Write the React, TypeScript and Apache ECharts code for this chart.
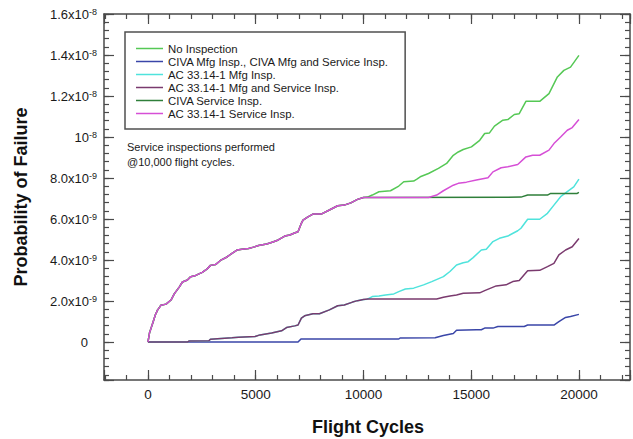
import React, { useEffect, useRef } from "react";
import * as echarts from "echarts";

// Axis extents (x in flight cycles, y in units of 1e-9)
const X_MIN = -2040;
const X_MAX = 22370;
const Y_MIN = -1.85;
const Y_MAX = 16;

const seriesNames = [
  "No Inspection",
  "CIVA Mfg Insp., CIVA Mfg and Service Insp.",
  "AC 33.14-1 Mfg Insp.",
  "AC 33.14-1 Mfg and Service Insp.",
  "CIVA Service Insp.",
  "AC 33.14-1 Service Insp.",
];

const seriesColors = ["#55c855", "#3a46a8", "#4fe3dc", "#7a3a6e", "#2f7f3a", "#d64fd6"];

// Common path of the three cases without manufacturing inspection, up to the
// service inspection at 10,000 cycles  [cycles, probability x 1e-9]
const noMfgToService: [number, number][] = [
  [0, 0], [70, 0.44], [145, 0.68], [220, 0.92], [345, 1.33], [450, 1.57], [560, 1.73],
  [600, 1.8], [840, 1.85], [1070, 2.05], [1220, 2.35], [1450, 2.68], [1600, 2.93],
  [1830, 3.03], [1985, 3.19], [2215, 3.25], [2520, 3.4], [2750, 3.57], [2900, 3.74],
  [3135, 3.78], [3365, 3.98], [3670, 4.15], [3900, 4.33], [4130, 4.49], [4360, 4.53],
  [4670, 4.56], [4900, 4.63], [5130, 4.71], [5510, 4.78], [5800, 4.88], [6045, 4.98],
  [6350, 5.17], [6585, 5.22], [6800, 5.32], [6965, 5.38], [7100, 5.75], [7195, 5.95],
  [7425, 6.11], [7655, 6.24], [8040, 6.24], [8420, 6.44], [8805, 6.65], [9110, 6.68],
  [9415, 6.79], [9725, 6.96], [10000, 7.05],
];

const noInspectionAfter: [number, number][] = [
  [10185, 7.07], [10410, 7.17], [10720, 7.33], [11255, 7.38], [11640, 7.61], [11870, 7.82],
  [12330, 7.85], [12480, 7.95], [12635, 8.06], [13020, 8.22], [13480, 8.47], [13860, 8.71],
  [14170, 9.11], [14400, 9.27], [14630, 9.39], [15010, 9.52], [15395, 9.84], [15625, 10.17],
  [15850, 10.2], [16080, 10.53], [16470, 10.82], [16700, 10.85], [17000, 11.1], [17230, 11.14],
  [17540, 11.74], [18180, 11.74], [18610, 12.12], [19000, 12.93], [19300, 13.25],
  [19610, 13.41], [20000, 13.98],
];

const acServiceAfter: [number, number][] = [
  [13020, 7.05], [13400, 7.17], [13710, 7.38], [14170, 7.65], [14400, 7.74], [14780, 7.8],
  [15240, 7.9], [15780, 8.01], [16010, 8.3], [16390, 8.5], [16700, 8.55], [17160, 8.66],
  [17540, 9.03], [17850, 9.11], [18180, 9.11], [18610, 9.36], [18840, 9.68], [19150, 10.0],
  [19460, 10.33], [19690, 10.46], [20000, 10.85],
];

const civaServiceAfter: [number, number][] = [
  [17310, 7.07], [17620, 7.17], [18540, 7.17], [18690, 7.25], [19920, 7.25], [20000, 7.3],
];

// Common path of the two AC 33.14-1 manufacturing-inspection cases
const acMfgToService: [number, number][] = [
  [0, 0], [1830, 0], [1900, 0.05], [2830, 0.06], [2900, 0.14], [3900, 0.21], [4200, 0.24],
  [4970, 0.27], [5200, 0.35], [5740, 0.44], [6200, 0.55], [6430, 0.71], [6810, 0.79],
  [6965, 0.83], [7120, 1.17], [7270, 1.28], [7655, 1.38], [7960, 1.38], [8420, 1.57],
  [8805, 1.77], [9110, 1.81], [9495, 1.95], [9725, 2.02], [10000, 2.08],
];

const acMfgAfter: [number, number][] = [
  [10185, 2.09], [10410, 2.22], [10720, 2.25], [11025, 2.3], [11410, 2.35], [11640, 2.46],
  [11945, 2.59], [12330, 2.63], [12790, 2.79], [13170, 2.95], [13710, 3.19], [14015, 3.44],
  [14320, 3.76], [14630, 3.87], [14860, 3.92], [15090, 4.12], [15470, 4.49], [15700, 4.53],
  [16010, 4.9], [16310, 5.06], [16700, 5.17], [17160, 5.43], [17310, 5.55], [17620, 5.99],
  [18180, 5.99], [18540, 6.28], [18840, 6.68], [19150, 7.09], [19380, 7.28], [19760, 7.57],
  [20000, 7.95],
];

const acMfgServiceAfter: [number, number][] = [
  [10185, 2.1], [13400, 2.1], [13710, 2.19], [14015, 2.25], [14320, 2.3], [14630, 2.38],
  [15395, 2.4], [15625, 2.51], [16160, 2.74], [16620, 2.79], [16930, 2.95], [17230, 3.0],
  [17620, 3.48], [18180, 3.5], [18540, 3.68], [18840, 3.84], [19070, 4.25], [19380, 4.49],
  [19690, 4.65], [20000, 5.05],
];

const civaMfg: [number, number][] = [
  [0, 0], [6965, 0], [7100, 0.15], [11640, 0.15], [11700, 0.2], [13325, 0.21], [13710, 0.32],
  [13940, 0.37], [14170, 0.42], [14320, 0.58], [15240, 0.6], [15470, 0.6], [15625, 0.68],
  [16010, 0.68], [16240, 0.76], [17460, 0.76], [17620, 0.83], [18840, 0.83], [19070, 1.0],
  [19380, 1.2], [19610, 1.25], [20000, 1.35],
];

const xTickLabels = [0, 5000, 10000, 15000, 20000];

const FONT = "'Liberation Sans', Arial, sans-serif";
const AXIS_COLOR = "#4a4a4a";
const TEXT_COLOR = "#1a1a1a";

function yLabel(v: number): string {
  if (v < -1e-6) return "";
  if (Math.abs(v) < 1e-6) return "{z|0}";
  if (Math.abs(v / 2 - Math.round(v / 2)) > 1e-6) return "";
  const real = v * 1e-9;
  const exp = Math.floor(Math.log10(real) + 1e-9);
  const mant = real / Math.pow(10, exp);
  if (Math.abs(mant - 1) < 1e-6) return `{b|10}{s|${exp}}`;
  return `{b|${mant.toFixed(1)}x10}{s|${exp}}`;
}

function xAxisDef(position: "top" | "bottom", step: number, tickLen: number, labels: boolean, line: boolean) {
  return {
    type: "value",
    position,
    min: X_MIN,
    max: X_MAX,
    minInterval: step,
    maxInterval: step,
    axisLine: { show: line, onZero: false, lineStyle: { color: AXIS_COLOR, width: 1.5 } },
    axisTick: { show: true, inside: true, length: tickLen, lineStyle: { color: AXIS_COLOR, width: 1.2 } },
    axisLabel: labels
      ? {
          show: true,
          margin: 7,
          fontSize: 13.5,
          fontFamily: FONT,
          color: TEXT_COLOR,
          showMinLabel: true,
          showMaxLabel: true,
          formatter: (v: number) => (xTickLabels.includes(Math.round(v)) && Math.abs(v - Math.round(v)) < 1e-6 ? String(Math.round(v)) : ""),
        }
      : { show: false },
    splitLine: { show: false },
  };
}

function yAxisDef(position: "left" | "right", step: number, tickLen: number, labels: boolean, line: boolean) {
  return {
    type: "value",
    position,
    min: Y_MIN,
    max: Y_MAX,
    minInterval: step,
    maxInterval: step,
    axisLine: { show: line, onZero: false, lineStyle: { color: AXIS_COLOR, width: 1.5 } },
    axisTick: { show: true, inside: true, length: tickLen, lineStyle: { color: AXIS_COLOR, width: 1.2 } },
    axisLabel: labels
      ? {
          show: true,
          margin: 7,
          showMinLabel: true,
          showMaxLabel: true,
          formatter: yLabel,
          rich: {
            b: { fontSize: 13, fontFamily: FONT, color: TEXT_COLOR, verticalAlign: "bottom", lineHeight: 14 },
            s: { fontSize: 9, fontFamily: FONT, color: TEXT_COLOR, verticalAlign: "top", lineHeight: 9, padding: [0, 0, 8, 0] },
            z: { fontSize: 13, fontFamily: FONT, color: TEXT_COLOR, padding: [0, 9, 0, 0] },
          },
        }
      : { show: false },
    splitLine: { show: false },
  };
}

export default function App() {
  const ref = useRef<HTMLDivElement>(null);

  useEffect(() => {
    if (!ref.current) return;
    const chart = echarts.init(ref.current, null, { renderer: "svg" });

    const seriesData: [number, number][][] = [
      [...noMfgToService, ...noInspectionAfter],
      civaMfg,
      [...acMfgToService, ...acMfgAfter],
      [...acMfgToService, ...acMfgServiceAfter],
      [...noMfgToService, ...civaServiceAfter],
      [...noMfgToService, ...acServiceAfter],
    ];

    chart.setOption({
      animation: false,
      backgroundColor: "#ffffff",
      textStyle: { fontFamily: FONT },
      grid: { left: 104, top: 14, width: 531, height: 366 },
      xAxis: [
        xAxisDef("bottom", 5000, 10, true, true),
        xAxisDef("bottom", 1000, 5, false, false),
        xAxisDef("top", 5000, 10, false, true),
        xAxisDef("top", 1000, 5, false, false),
      ],
      yAxis: [
        yAxisDef("left", 2, 10, true, true),
        yAxisDef("left", 0.4, 5, false, false),
        yAxisDef("right", 2, 10, false, true),
        yAxisDef("right", 0.4, 5, false, false),
      ],
      legend: {
        data: seriesNames,
        orient: "vertical",
        left: 125,
        top: 32,
        padding: [10, 16, 9, 11],
        icon: "rect",
        itemWidth: 27,
        itemHeight: 1.5,
        itemGap: 0,
        selectedMode: false,
        backgroundColor: "#ffffff",
        borderColor: "#505050",
        borderWidth: 1.5,
        textStyle: { fontSize: 11.4, fontFamily: FONT, color: TEXT_COLOR, lineHeight: 13 },
      },
      graphic: [
        {
          type: "text",
          left: 127,
          top: 139,
          style: {
            text: "Service inspections performed\n@10,000 flight cycles.",
            fontSize: 11,
            fontFamily: FONT,
            lineHeight: 15,
            fill: TEXT_COLOR,
          },
        },
        {
          type: "text",
          x: 21,
          y: 197,
          rotation: Math.PI / 2,
          style: {
            text: "Probability of Failure",
            fontSize: 18,
            fontWeight: "bold",
            fontFamily: FONT,
            fill: "#111",
            align: "center",
            verticalAlign: "middle",
          },
        },
        {
          type: "text",
          x: 368,
          y: 427,
          style: {
            text: "Flight Cycles",
            fontSize: 18,
            fontWeight: "bold",
            fontFamily: FONT,
            fill: "#111",
            align: "center",
            verticalAlign: "middle",
          },
        },
      ],
      series: seriesNames.map((name, i) => ({
        name,
        type: "line",
        xAxisIndex: 0,
        yAxisIndex: 0,
        data: seriesData[i],
        symbol: "none",
        showSymbol: false,
        silent: true,
        color: seriesColors[i],
        lineStyle: { color: seriesColors[i], width: 1.5 },
        z: 2 + i,
      })),
    });

    return () => chart.dispose();
  }, []);

  return (
    <div
      ref={ref}
      style={{ position: "fixed", left: 0, top: 0, width: 633, height: 439, background: "#fff" }}
    />
  );
}
